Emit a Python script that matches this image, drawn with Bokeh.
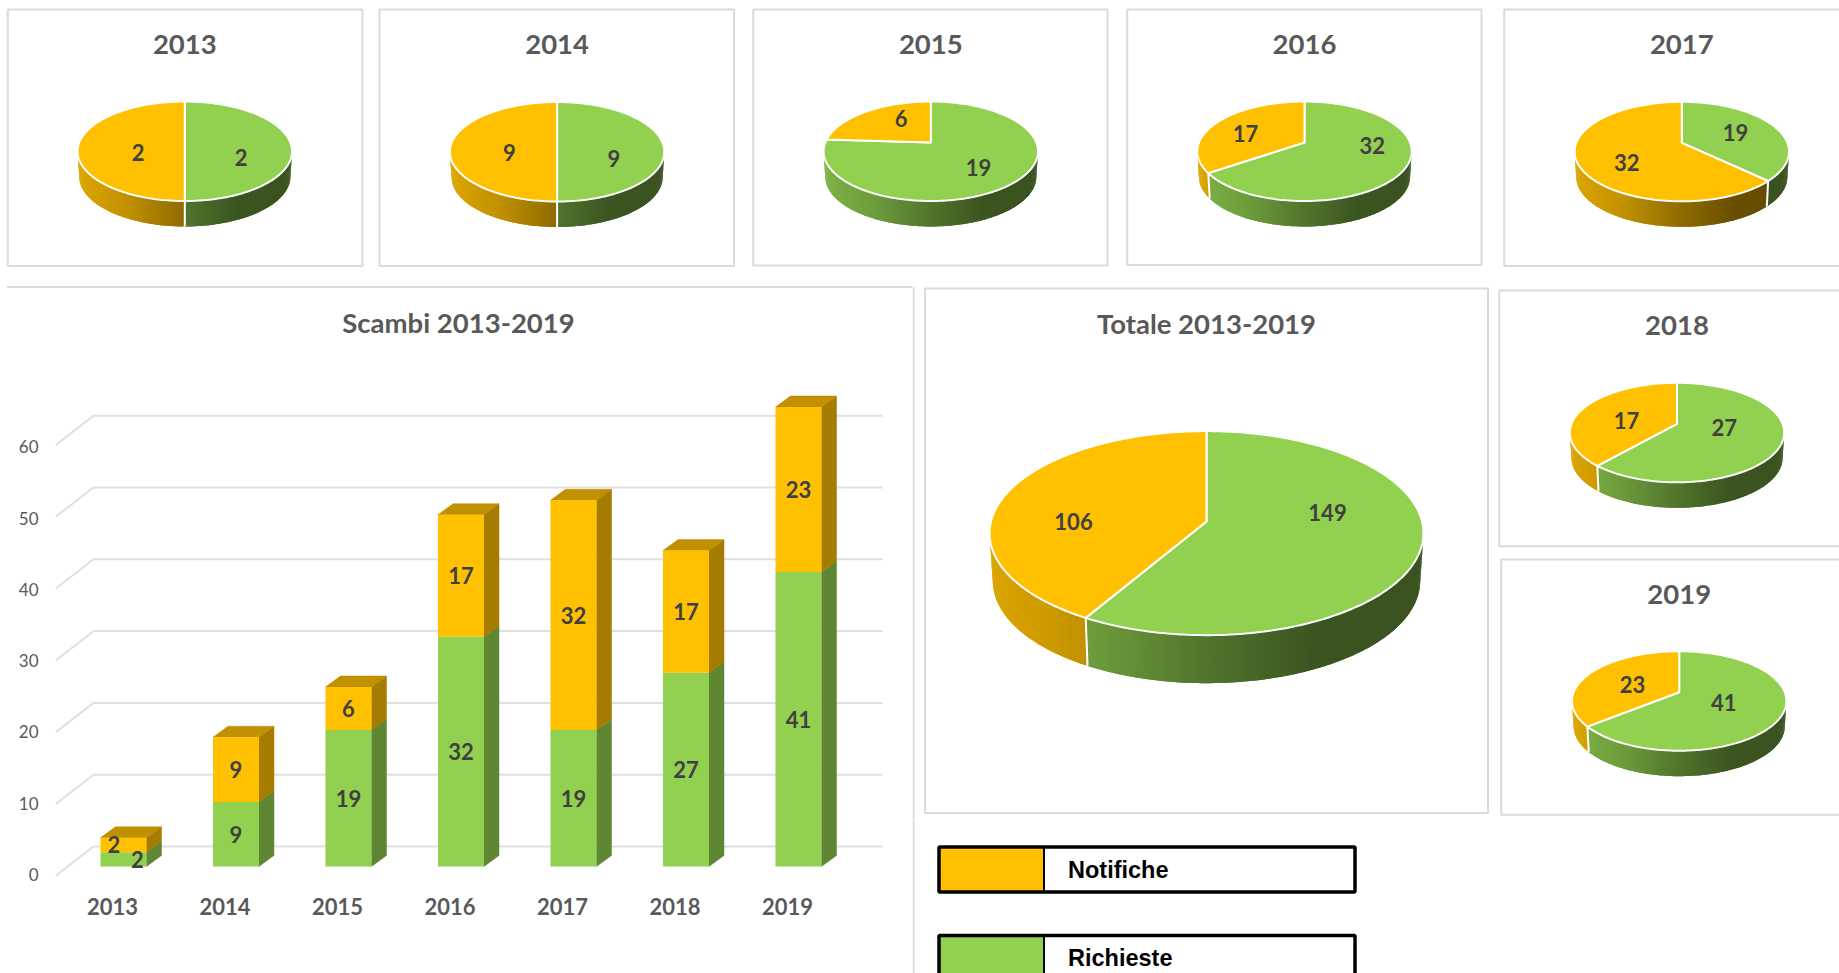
import numpy as np
from bokeh.core.properties import value
from bokeh.embed import file_html
from bokeh.layouts import column, row
from bokeh.models import Div, FixedTicker, LinearAxis, Range1d
from bokeh.plotting import figure
from bokeh.resources import INLINE

# ---- data
years = [2013, 2014, 2015, 2016, 2017, 2018, 2019]
notifiche = [2, 9, 6, 17, 32, 17, 23]
richieste = [2, 9, 19, 32, 19, 27, 41]
y_ticks = [0, 10, 20, 30, 40, 50, 60]
series_names = ["Notifiche", "Richieste"]
total_title = "Totale 2013-2019"
bars_title = "Scambi 2013-2019"

# ---- styles
ORANGE, GREEN = "#FFC000", "#92D050"
ORANGE_RGB, GREEN_RGB = (255, 192, 0), (146, 208, 80)
ORANGE_SIDE, ORANGE_TOP, GREEN_SIDE = "#A67C00", "#C09000", "#5F8733"
BORDER, TITLE, LABEL = "#DADADA", "#595959", "#404040"
FONT = value("Lato")

# ---- layout: page pixels of each tile, panel box, pie centre, title and label positions
TILE_X = [0, 370, 743, 1117, 1492, 1839]
TOP_Y = (0, 268)
LOWER_Y = 973
SPLIT_X = 912
SMALL = dict(rx=105.5, ry=48.2, k=0.176, depth=25.5)
LARGE = dict(rx=215.5, ry=100.7, k=0.114, depth=48)
PANELS = {
    2013: dict(box=(7.3, 9, 362, 265.5), c=(184.3, 142), title_y=43.5, o=(137.7, 151.5), g=(240.7, 157)),
    2014: dict(box=(379, 9, 733.5, 265.5), c=(556.6, 142.5), title_y=43.5, o=(509, 152), g=(613.5, 158)),
    2015: dict(box=(752.7, 9, 1107, 265), c=(930.3, 142), title_y=43.5, o=(900.7, 117.5), g=(978, 166.5)),
    2016: dict(box=(1126.7, 9, 1481, 264.5), c=(1304, 142), title_y=43.5, o=(1245, 132.5), g=(1371.7, 144.5)),
    2017: dict(box=(1503.7, 9, 1860, 265.5), c=(1681.3, 142.3), title_y=43.5, o=(1626.3, 162), g=(1735, 132)),
    2018: dict(box=(1498.7, 290, 1860, 545.7), c=(1676.5, 423.3), title_y=324.5, o=(1626, 419.5), g=(1723.7, 426.5)),
    2019: dict(box=(1500.7, 559, 1860, 814.3), c=(1678.7, 691.7), title_y=593.5, o=(1632, 683.5), g=(1723.3, 701.5)),
}
TOTAL_PANEL = dict(box=(924.5, 288, 1487.5, 812.5), c=(1206, 521), title_y=323, o=(1073, 520.5), g=(1327, 511.5))


def shade(rgb, t):
    f = np.interp(t, [0, 0.22, 0.5, 0.75, 1], [0.86, 0.76, 0.56, 0.41, 0.40])
    return "#%02x%02x%02x" % tuple(int(c * f) for c in rgb)


def tile(x0, x1, y0, y1):
    p = figure(width=x1 - x0, height=y1 - y0, x_range=Range1d(x0, x1), y_range=Range1d(y1, y0),
               x_axis_location=None, y_axis_location=None, toolbar_location=None,
               output_backend="svg", min_border=0)
    p.grid.visible = False
    p.outline_line_color = None
    return p


def pie(p, title, green_v, orange_v, panel, geo):
    cx, vy = panel["c"]
    rx, ry, k, depth = geo["rx"], geo["ry"], geo["k"], geo["depth"]
    l, t, r, b = panel["box"]
    p.quad(left=[l], right=[r], top=[t], bottom=[b], fill_color=None, line_color=BORDER, line_width=2)

    def rim(th):
        th = np.radians(th)
        s = 1 / (1 + k * np.cos(th))
        return cx + rx * np.sin(th) * s, vy - ry * np.cos(th) * s

    def inner(v):
        return cx + (v - cx) * 0.985

    split = 360 * green_v / (green_v + orange_v)
    th0 = np.degrees(np.arccos(-k))
    left_x = cx - rx

    # side wall: strips that overlap the next one, so no seams show between the shades
    for start, end, rgb in ((max(th0, 0), min(split, 360 - th0), GREEN_RGB),
                            (max(split, th0), 360 - th0, ORANGE_RGB)):
        if end <= start:
            continue
        n = max(int(end - start), 1)
        edges = np.linspace(start, end, n + 1)
        xs, ys, cols = [], [], []
        for i in range(n):
            a, c, d = edges[i], edges[i + 1], edges[min(i + 2, n)]
            xa, ya = rim(a)
            xc, yc = rim(c)
            xd, yd = rim(d)
            xs.append([xa, xc, xd, inner(xd), inner(xc), inner(xa)])
            ys.append([ya, yc, yd, yd + depth, yc + depth, ya + depth])
            cols.append(shade(rgb, ((xa + xc) / 2 - left_x) / (2 * rx)))
        p.patches(xs, ys, fill_color=cols, line_color=None)
    if th0 < split < 360 - th0:
        xa, ya = rim(split)
        p.line([xa, inner(xa)], [ya, ya + depth], line_color="white", line_width=2)

    # top face
    for start, end, col in ((0, split, GREEN), (split, 360, ORANGE)):
        th = np.linspace(start, end, max(int(end - start), 2) + 1)
        x, y = rim(th)
        p.patch(np.r_[cx, x], np.r_[vy, y], fill_color=col, line_color="white", line_width=2)

    p.text([cx], [panel["title_y"]], text=[title], text_font=FONT, text_font_style="bold",
           text_font_size="27.5px", text_color=TITLE, text_align="center", text_baseline="middle")
    p.text([panel["o"][0], panel["g"][0]], [panel["o"][1], panel["g"][1]],
           text=[str(orange_v), str(green_v)], text_font=FONT, text_font_style="bold",
           text_font_size="22px", text_color=LABEL, text_align="center", text_baseline="middle")


# ---- yearly pies
figs = {}
for i, yr in enumerate(years):
    if yr <= 2017:
        j = yr - 2013
        box = (TILE_X[j], TILE_X[j + 1], TOP_Y[0], TOP_Y[1])
    elif yr == 2018:
        box = (1493, 1839, 268, 552)
    else:
        box = (1493, 1839, 552, 973)
    f = tile(*box)
    pie(f, str(yr), richieste[i], notifiche[i], PANELS[yr], SMALL)
    figs[yr] = f

# ---- total pie (its tile also carries the right edge of the bar panel)
total = tile(SPLIT_X, 1493, 268, 820)
total.line([913, 913], [286, 820], line_color=BORDER, line_width=2)
pie(total, total_title, sum(richieste), sum(notifiche), TOTAL_PANEL, LARGE)

# ---- legend
legend = tile(SPLIT_X, 1493, 820, 973)
legend.line([913, 913], [820, 973], line_color=BORDER, line_width=2)
for name, col, (y0, y1) in zip(series_names, (ORANGE, GREEN), ((846.5, 891.5), (935, 1000))):
    legend.quad(left=[938.5], right=[1043.5], top=[y0], bottom=[y1], fill_color=col, line_color=None)
    legend.quad(left=[938.5], right=[1354.5], top=[y0], bottom=[y1], fill_color=None,
                line_color="black", line_width=3.5)
    legend.line([1043.5, 1043.5], [y0, y1], line_color="black", line_width=2)
    legend.text([1067.5], [min(y0 + 22.5, 957)], text=[name], text_font=value("Liberation Sans"),
                text_font_style="bold", text_font_size="23.5px", text_color="black",
                text_baseline="middle")

# ---- top edge of the bar panel, which also runs over the band of the value axis
strip = Div(text="", width=SPLIT_X - 7, height=2, margin=(18, 0, 1, 7), styles={"background-color": BORDER})

# ---- stacked pseudo-3D bars
FRAME_L, FRAME_R, FRAME_T, FRAME_B = 55, SPLIT_X, 289, 885
PX_YEAR, PX_VALUE = 112.5, 7.18
X0_PX, BACK0_PX = 112, 846
to_x = lambda px: 2013 + (px - X0_PX) / PX_YEAR
to_y = lambda px: (BACK0_PX - px) / PX_VALUE
HALF_W = 23 / PX_YEAR
SHIFT_X = 11 / PX_YEAR
DEPTH_X, DEPTH_Y = 15 / PX_YEAR, 11 / PX_VALUE
FRONT0 = to_y(866)

bars = figure(width=FRAME_R, height=LOWER_Y - FRAME_T, frame_width=FRAME_R - FRAME_L,
              frame_height=FRAME_B - FRAME_T,
              x_range=Range1d(to_x(FRAME_L), to_x(FRAME_R)), y_range=Range1d(to_y(FRAME_B), to_y(FRAME_T)),
              extra_y_ranges={"ticks": Range1d((874 - FRAME_B) / 7.13, (874 - FRAME_T) / 7.13)},
              x_axis_location="below", y_axis_location=None, toolbar_location=None, output_backend="svg",
              min_border_left=FRAME_L, min_border_right=0, min_border_top=0,
              min_border_bottom=LOWER_Y - FRAME_B)
bars.grid.visible = False
bars.outline_line_color = None

xa = bars.xaxis[0]
xa.ticker = FixedTicker(ticks=years)
xa.axis_line_color = None
xa.major_tick_line_color = None
xa.minor_tick_line_color = None
xa.major_label_text_font = "Lato"
xa.major_label_text_font_style = "bold"
xa.major_label_text_font_size = "22px"
xa.major_label_text_color = TITLE
xa.major_label_standoff = 6

ya = LinearAxis(y_range_name="ticks", ticker=FixedTicker(ticks=y_ticks))
ya.axis_line_color = None
ya.major_tick_line_color = None
ya.minor_tick_line_color = None
ya.major_label_text_font = "Lato"
ya.major_label_text_font_size = "17px"
ya.major_label_text_color = TITLE
ya.major_label_standoff = 11
bars.add_layout(ya, "left")

# wall grid
for v in y_ticks:
    bars.line([to_x(55), to_x(93), to_x(882)], [v - 29.5 / PX_VALUE, v, v], line_color="#E0E0E0", line_width=2)

yr = np.array(years, dtype=float)
g = np.array(richieste, dtype=float)
o = np.array(notifiche, dtype=float)
cx = yr + SHIFT_X
xl, xr = cx - HALF_W, cx + HALF_W
g_top = FRONT0 + g
o_top = g_top + o


def side(base, top):
    return ([[a, a + DEPTH_X, a + DEPTH_X, a] for a in xr],
            [[b, b + DEPTH_Y, t + DEPTH_Y, t] for b, t in zip(base, top)])


sx, sy = side(np.full_like(g, FRONT0), g_top)
bars.patches(sx, sy, fill_color=GREEN_SIDE, line_color=GREEN_SIDE, line_width=0.5)
sx, sy = side(g_top, o_top)
bars.patches(sx, sy, fill_color=ORANGE_SIDE, line_color=ORANGE_SIDE, line_width=0.5)
bars.patches([[a, b, b + DEPTH_X, a + DEPTH_X] for a, b in zip(xl, xr)],
             [[t, t, t + DEPTH_Y, t + DEPTH_Y] for t in o_top],
             fill_color=ORANGE_TOP, line_color=ORANGE_TOP, line_width=0.5)
bars.quad(left=xl, right=xr, bottom=FRONT0, top=g_top, fill_color=GREEN, line_color=None)
bars.quad(left=xl, right=xr, bottom=g_top, top=o_top, fill_color=ORANGE, line_color=None)

LABEL_NUDGE_O = [-9.5, 0, 0, 0, 0, 0, 0]
LABEL_NUDGE_G = [14, 0, 0, 0, 0, 0, 0]
common = dict(text_font=FONT, text_font_style="bold", text_font_size="22px", text_color=LABEL,
              text_align="center", text_baseline="middle")
bars.text(cx, FRONT0 + g / 2, text=[str(v) for v in richieste], x_offset=LABEL_NUDGE_G, **common)
bars.text(cx, g_top + o / 2, text=[str(v) for v in notifiche], x_offset=LABEL_NUDGE_O, **common)
bars.text([to_x(458)], [to_y(322)], text=[bars_title], text_font=FONT, text_font_style="bold",
          text_font_size="27.5px", text_color=TITLE, text_align="center", text_baseline="middle")

page = column(
    row(figs[2013], figs[2014], figs[2015], figs[2016], figs[2017], spacing=0),
    row(column(strip, bars, spacing=0), column(total, legend, spacing=0),
        column(figs[2018], figs[2019], spacing=0), spacing=0),
    spacing=0,
)
open("out.html", "w").write(file_html(page, INLINE))
